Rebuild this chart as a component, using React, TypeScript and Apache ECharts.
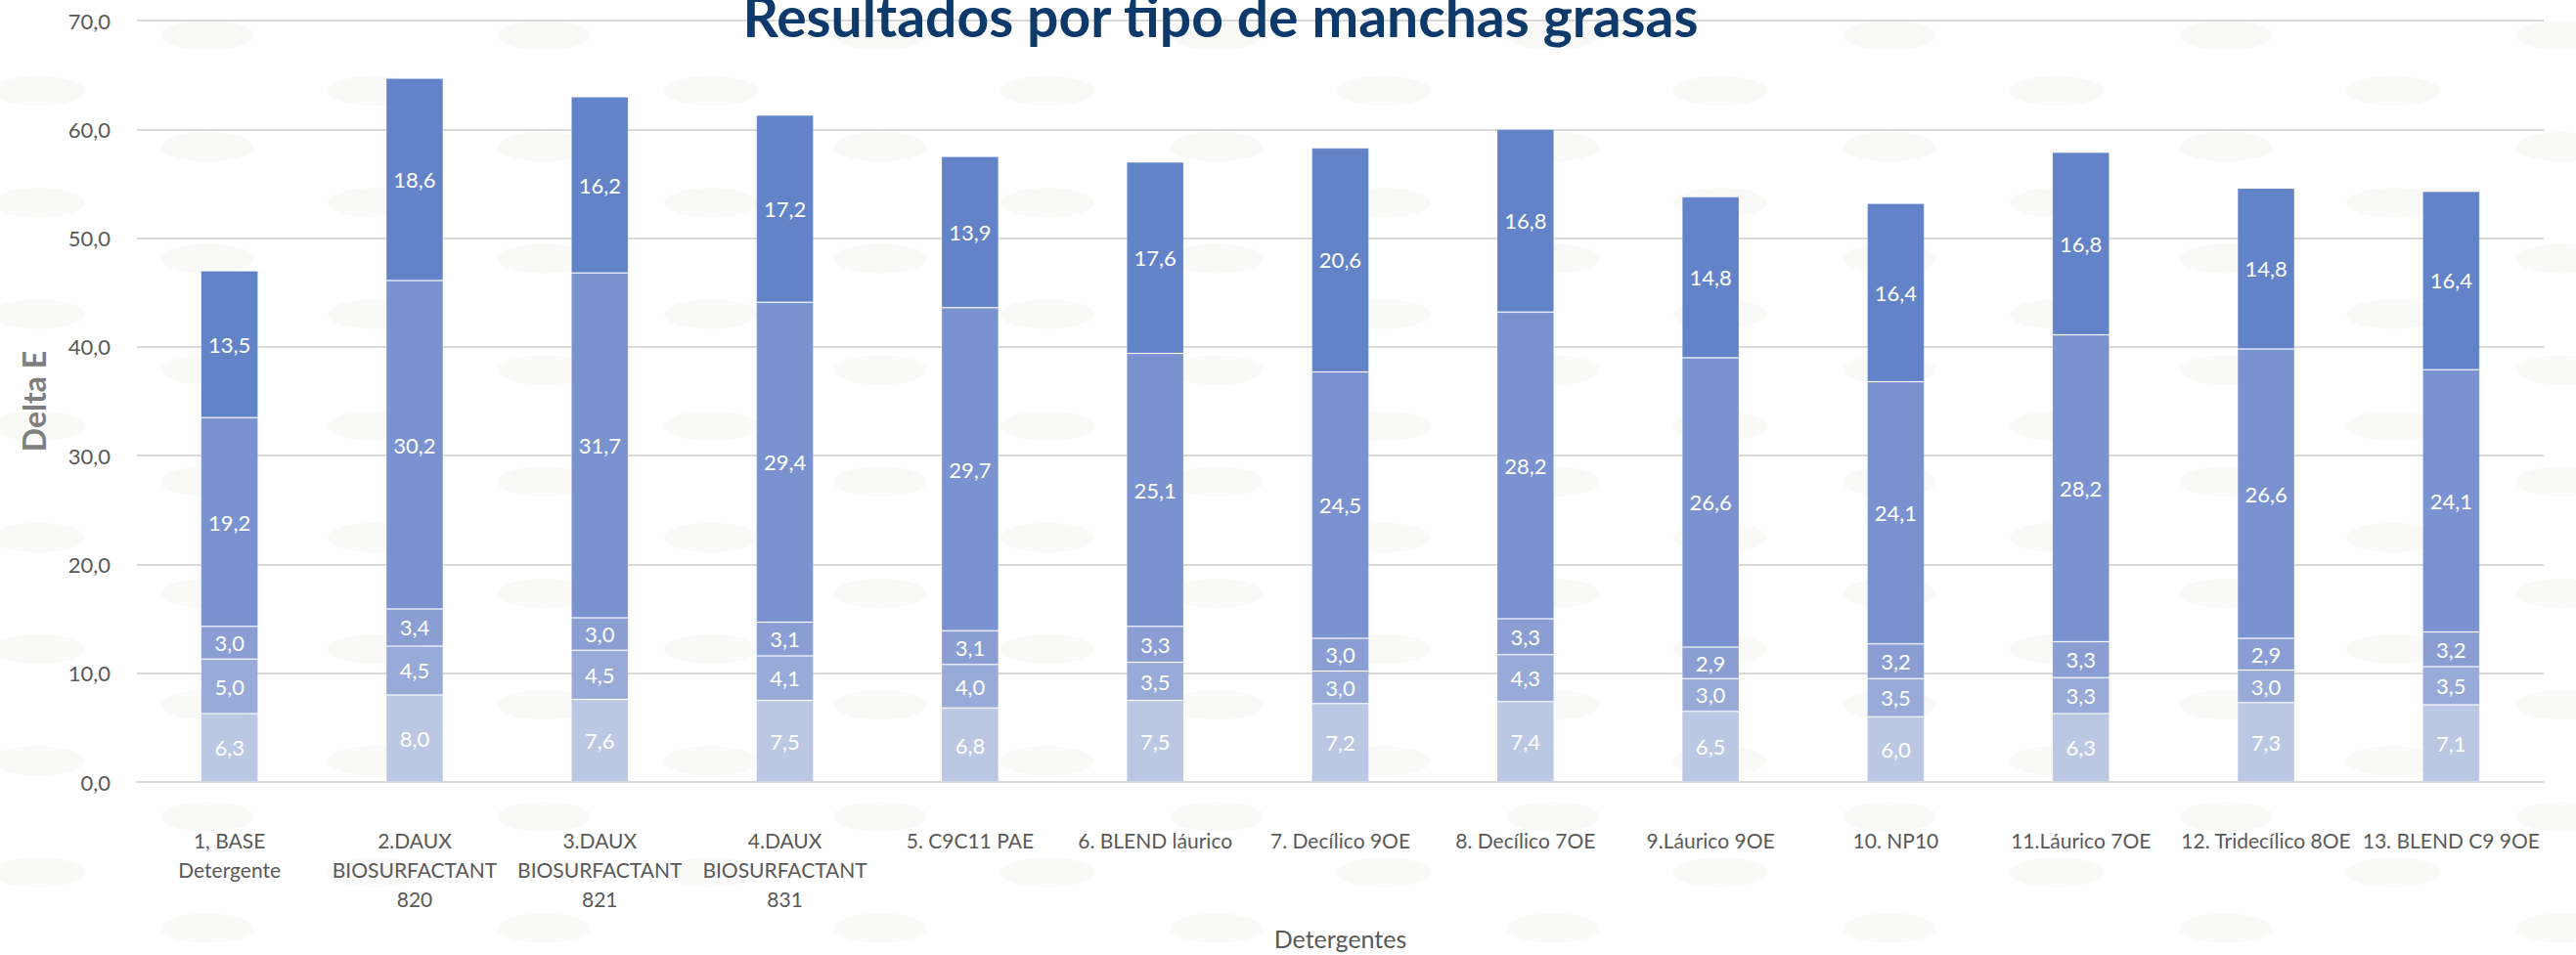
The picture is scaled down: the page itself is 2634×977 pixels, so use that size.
import React, { useEffect, useRef } from "react";
import * as echarts from "echarts";

const categories = [
  "1, BASE\nDetergente",
  "2.DAUX\nBIOSURFACTANT\n820",
  "3.DAUX\nBIOSURFACTANT\n821",
  "4.DAUX\nBIOSURFACTANT\n831",
  "5. C9C11 PAE",
  "6. BLEND láurico",
  "7. Decílico 9OE",
  "8. Decílico 7OE",
  "9.Láurico 9OE",
  "10. NP10",
  "11.Láurico 7OE",
  "12. Tridecílico 8OE",
  "13. BLEND C9 9OE",
];

const serie1 = [6.3, 8.0, 7.6, 7.5, 6.8, 7.5, 7.2, 7.4, 6.5, 6.0, 6.3, 7.3, 7.1];
const serie2 = [5.0, 4.5, 4.5, 4.1, 4.0, 3.5, 3.0, 4.3, 3.0, 3.5, 3.3, 3.0, 3.5];
const serie3 = [3.0, 3.4, 3.0, 3.1, 3.1, 3.3, 3.0, 3.3, 2.9, 3.2, 3.3, 2.9, 3.2];
const serie4 = [19.2, 30.2, 31.7, 29.4, 29.7, 25.1, 24.5, 28.2, 26.6, 24.1, 28.2, 26.6, 24.1];
const serie5 = [13.5, 18.6, 16.2, 17.2, 13.9, 17.6, 20.6, 16.8, 14.8, 16.4, 16.8, 14.8, 16.4];

const seriesNames = ["Mancha 1", "Mancha 2", "Mancha 3", "Mancha 4", "Mancha 5"];
const seriesColors = ["#bcc7e4", "#98aad8", "#8a9ed3", "#7a92cf", "#6383c8"];
const seriesData = [serie1, serie2, serie3, serie4, serie5];

const yMin = 0;
const yMax = 70;
const yInterval = 10;

const fmt = (v: number) => v.toFixed(1).replace(".", ",");

export default function App() {
  const ref = useRef<HTMLDivElement>(null);

  useEffect(() => {
    document.body.style.margin = "0";
    if (!ref.current) return;
    const chart = echarts.init(ref.current, undefined, { renderer: "svg" });

    // decorative background pattern of soft ellipses
    const bg: any[] = [];
    for (let k = 0; k <= 16; k++) {
      const cy = 36 + 57.1 * k;
      const x0 = k % 2 === 0 ? 212 : 39;
      for (let cx = x0; cx < 2634 + 60; cx += 344) {
        bg.push({
          type: "ellipse",
          silent: true,
          z: -10,
          shape: { cx, cy, rx: 48, ry: 15 },
          style: { fill: "#f9f9f7" },
        });
      }
    }

    const option: any = {
      animation: false,
      backgroundColor: "#ffffff",
      textStyle: { fontFamily: "Lato" },
      graphic: [
        ...bg,
        {
          type: "text",
          z: 100,
          x: 1248,
          y: 16,
          style: {
            text: "Resultados por tipo de manchas grasas",
            fontFamily: "Lato",
            fontWeight: "bold",
            fontSize: 57,
            fill: "#0d3a6b",
            align: "center",
            verticalAlign: "middle",
            textAlign: "center",
            textVerticalAlign: "middle",
          },
        },
      ],
      grid: { left: 140, right: 33, top: 21, bottom: 177, containLabel: false },
      xAxis: {
        type: "category",
        data: categories,
        name: "Detergentes",
        nameLocation: "middle",
        nameGap: 147,
        nameTextStyle: { color: "#595959", fontSize: 25, fontFamily: "Lato" },
        axisLine: { show: true, lineStyle: { color: "#d9d9d9", width: 2 } },
        axisTick: { show: false },
        axisLabel: {
          interval: 0,
          color: "#595959",
          fontSize: 21,
          lineHeight: 30,
          margin: 44,
          fontFamily: "Lato",
        },
      },
      yAxis: {
        type: "value",
        min: yMin,
        max: yMax,
        interval: yInterval,
        name: "Delta E",
        nameLocation: "middle",
        nameGap: 90,
        nameTextStyle: { color: "#7f7f7f", fontSize: 32, fontWeight: "bold", fontFamily: "Lato" },
        axisLine: { show: false },
        axisTick: { show: false },
        axisLabel: {
          color: "#595959",
          fontSize: 22,
          margin: 27,
          fontFamily: "Lato",
          formatter: (v: number) => fmt(v),
        },
        splitLine: { lineStyle: { color: "#d9d9d9", width: 2 } },
      },
      series: seriesData.map((d, i) => ({
        name: seriesNames[i],
        type: "bar",
        stack: "total",
        barWidth: "31%",
        data: d,
        itemStyle: {
          color: seriesColors[i],
          borderColor: "rgba(255,255,255,0.18)",
          borderWidth: 1,
        },
        label: {
          show: true,
          position: "inside",
          color: "#ffffff",
          fontSize: 22,
          fontFamily: "Lato",
          formatter: (p: any) => fmt(p.value),
        },
      })),
    };

    chart.setOption(option);
    return () => chart.dispose();
  }, []);

  return <div ref={ref} style={{ width: 2634, height: 977 }} />;
}
